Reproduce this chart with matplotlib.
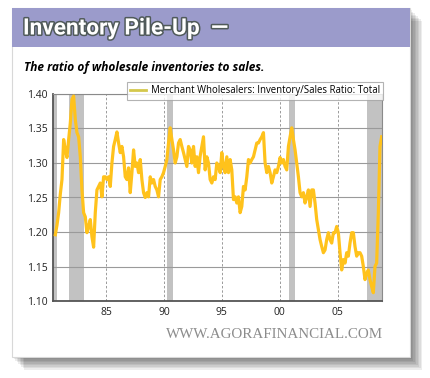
import matplotlib
matplotlib.use('Agg')
import matplotlib.pyplot as plt
import matplotlib.patheffects as pe
from matplotlib.patches import Rectangle
from matplotlib.lines import Line2D
import numpy as np

ratio = [
    1.196, 1.210, 1.228, 1.255, 1.276, 1.334, 1.319, 1.308, 1.334, 1.358,
    1.392, 1.397, 1.363, 1.344, 1.338, 1.309, 1.261, 1.228, 1.222, 1.199,
    1.208, 1.218, 1.193, 1.178, 1.228, 1.261, 1.266, 1.271, 1.251, 1.280,
    1.280, 1.276, 1.280, 1.266, 1.300, 1.324, 1.334, 1.345, 1.329, 1.315,
    1.324, 1.309, 1.280, 1.276, 1.293, 1.257, 1.286, 1.319, 1.295, 1.300,
    1.286, 1.305, 1.276, 1.257, 1.250, 1.257, 1.251, 1.280, 1.271, 1.276,
    1.266, 1.261, 1.251, 1.276, 1.280, 1.286, 1.295, 1.305, 1.329, 1.351,
    1.334, 1.319, 1.300, 1.309, 1.329, 1.334, 1.324, 1.315, 1.305, 1.295,
    1.324, 1.319, 1.300, 1.324, 1.295, 1.309, 1.286,
    1.310, 1.324, 1.338, 1.290, 1.309, 1.300, 1.276, 1.271, 1.280, 1.276,
    1.300, 1.295, 1.286, 1.315, 1.295, 1.286, 1.309, 1.286, 1.305, 1.290,
    1.247, 1.251, 1.242, 1.251, 1.228, 1.237, 1.266, 1.261, 1.280, 1.305,
    1.300, 1.305, 1.309, 1.319, 1.329, 1.329, 1.334, 1.338, 1.344, 1.300,
    1.286, 1.295, 1.286, 1.271, 1.280, 1.290, 1.286, 1.295, 1.308, 1.300,
    1.305, 1.295, 1.290, 1.324, 1.338, 1.351, 1.334, 1.319, 1.300, 1.280,
    1.257, 1.251, 1.257, 1.242, 1.251, 1.261, 1.237, 1.261, 1.261, 1.242,
    1.218, 1.203, 1.189, 1.179, 1.170, 1.174, 1.189, 1.199, 1.189, 1.184,
    1.199, 1.199, 1.208, 1.199, 1.170, 1.145, 1.160, 1.155, 1.170, 1.165,
    1.184, 1.199, 1.199, 1.179, 1.165, 1.170, 1.170, 1.165, 1.150, 1.131,
    1.140, 1.145, 1.131, 1.121, 1.112, 1.150, 1.155, 1.228, 1.324, 1.338,
]
years = np.linspace(1980.63, 2008.79, len(ratio))

# shaded recession periods as drawn
rec_start = [1980.40, 1981.84, 1990.26, 2000.80, 2007.50]
rec_end = [1980.78, 1983.08, 1990.80, 2001.35, 2008.85]

tick_years = [1985, 1990, 1995, 2000, 2005]
tick_labels = ['85', '90', '95', '00', '05']
y_ticks = [1.10, 1.15, 1.20, 1.25, 1.30, 1.35, 1.40]

fig = plt.figure(figsize=(4.31, 3.78), dpi=100)
fig.patch.set_facecolor('white')

W, H = 431.0, 378.0
def fx(px):
    return px / W
def fy(py):
    return 1 - py / H

# drop shadow of the card
for i in range(8):
    off = 2 + i * 1.5
    sh = Rectangle((fx(12 + off), fy(357 + off)), fx(398), 349 / H,
                   transform=fig.transFigure, facecolor='black',
                   alpha=0.07, edgecolor='none', zorder=0)
    fig.patches.append(sh)

card = Rectangle((fx(12), fy(357)), fx(398), 349 / H, transform=fig.transFigure,
                 facecolor='white', edgecolor='#d8d8d8', lw=0.8, zorder=1)
fig.patches.append(card)
band = Rectangle((fx(12), fy(47)), fx(398), 39 / H, transform=fig.transFigure,
                 facecolor='#9b9bcb', edgecolor='none', zorder=2)
fig.patches.append(band)

fig.text(fx(23), fy(28), 'Inventory Pile-Up  \u2014', fontsize=16.3, fontweight='bold',
         family=['Liberation Sans Narrow', 'Roboto', 'DejaVu Sans'], color='white',
         va='center', ha='left', zorder=3,
         path_effects=[pe.withStroke(linewidth=2.2, foreground='#505a5a')])
fig.text(fx(24), fy(67), 'The ratio of wholesale inventories to sales.', fontsize=8.6,
         fontweight='bold', style='italic', family='Open Sans', color='black',
         va='center', ha='left', zorder=3)
fig.text(fx(383), fy(334), 'WWW.AGORAFINANCIAL.COM', fontsize=10.8,
         family='Liberation Serif', color='#8c8c8c', va='center', ha='right', zorder=3)

ax = fig.add_axes([fx(53), fy(301), fx(382) - fx(53), (301 - 94) / H])
ax.set_zorder(4)
ax.set_facecolor('white')

for s, e in zip(rec_start, rec_end):
    ax.axvspan(s, e, color='#c2c2c2', lw=0, zorder=1)

ax.plot(years, ratio, color='#ffc21c', lw=2.3, zorder=3, solid_joinstyle='round')

ax.set_xlim(1980.43, 2008.82)
ax.set_ylim(1.10, 1.40)
ax.set_xticks(tick_years)
ax.set_xticklabels(tick_labels)
ax.set_yticks(y_ticks)
ax.set_yticklabels(['%.2f' % v for v in y_ticks])
ax.tick_params(length=0, labelsize=7.5, colors='#222222', pad=4)
for lab in ax.get_xticklabels() + ax.get_yticklabels():
    lab.set_family('Open Sans')

ax.grid(axis='y', color='#9a9a9a', lw=0.8, zorder=2)
for t in tick_years:
    ax.axvline(t, color='#9a9a9a', lw=0.7, ls=(0, (2.5, 2)), zorder=2)

for side in ['left', 'bottom']:
    ax.spines[side].set_color('#555555')
    ax.spines[side].set_linewidth(1.3)
for side in ['top', 'right']:
    ax.spines[side].set_color('#8a8a8a')
    ax.spines[side].set_linewidth(0.8)

handle = Line2D([], [], color='#d4c84c', lw=2)
leg = fig.legend([handle], ['Merchant Wholesalers: Inventory/Sales Ratio: Total'],
                 loc='upper right', bbox_to_anchor=(fx(383), fy(82)),
                 frameon=True, fancybox=False, handlelength=1.6,
                 handletextpad=0.5, borderpad=0.35, borderaxespad=0,
                 prop={'family': 'Open Sans', 'size': 6.9})
leg.get_frame().set_edgecolor('#a0a0a0')
leg.get_frame().set_linewidth(0.8)
leg.set_zorder(6)

fig.savefig('out.png', dpi=100)
